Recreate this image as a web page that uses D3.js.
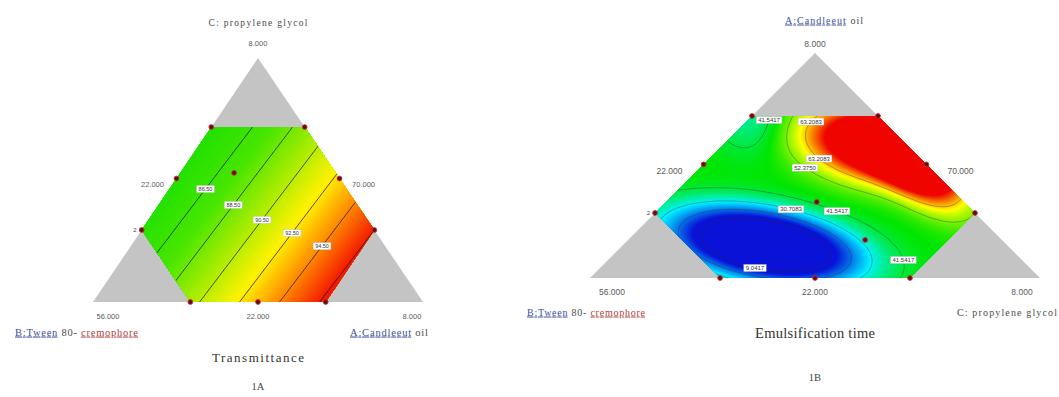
<!DOCTYPE html>
<html>
<head>
<meta charset="utf-8">
<script src="https://cdn.jsdelivr.net/npm/d3@7/dist/d3.min.js"></script>
<style>
  html, body { margin: 0; padding: 0; background: #fff; }
  svg { display: block; }
</style>
</head>
<body>
<svg id="fig" width="1059" height="397"></svg>
<script>
// Mixture fractions are written [top, left, right] for the corners of each ternary plot.

// ---------- 1A : Transmittance ----------
const corners1A = ["C: propylene glycol", "B:Tween 80- cremophore", "A:Candleeut oil"];
const ticks1A = ["8.000", "22.000", "70.000", "56.000", "22.000", "8.000"]; // apex, left edge, right edge, base L, base mid, base R
const limits1A = [0.717, 0.705, 0.705];            // upper bounds of each component
const transCoef = [84.15, 85.17, 101.67];          // linear blending terms (C, B, A)
const transLevels = [86.5, 88.5, 90.5, 92.5, 94.5, 96.5];
const transLabelAt = [[0.467, 0.427, 0.105], [0.406, 0.382, 0.212], [0.336, 0.320, 0.344],
                      [0.279, 0.255, 0.467], [0.225, 0.191, 0.585]];
const transRuns = [[0.717, 0.283, 0], [0.717, 0, 0.283], [0.506, 0.494, 0], [0.506, 0, 0.494],
                   [0.295, 0.705, 0], [0.295, 0, 0.705], [0, 0.705, 0.295], [0, 0.5, 0.5],
                   [0, 0.295, 0.705], [0.529, 0.308, 0.163]];
const transReplicates = [[0.295, 0.705, 0]];

// ---------- 1B : Emulsification time ----------
const corners1B = ["A:Candleeut oil", "B:Tween 80- cremophore", "C: propylene glycol"];
const ticks1B = ["8.000", "22.000", "70.000", "56.000", "22.000", "8.000"];
const limits1B = [0.72, 0.711, 0.711];
const emulsBase = 45;
const emulsCentres = [[0.591, 0.06, 0.349], [0.48, 0.027, 0.493], [0.147, 0.538, 0.315], [0.72, 0.28, 0]];
const emulsHeights = [45, 30, -47, -10];
const emulsSpreads = [[0.178, 0.0844], [0.133, 0.0667], [0.228, 0.0845], [0.078, 0.078]]; // along / across, base-width units
const emulsTilts = [10, 40, 10, 0];
const emulsShapes = [1.2, 1.2, 1.5, 1];
const emulsLevels = [9.0417, 19.875, 30.7083, 41.5417, 52.375, 63.2083];
const emulsLabelAt = [[0.053, 0.607, 0.34], [0.067, 0.289, 0.644], [0.316, 0.393, 0.291],
                      [0.316, 0.291, 0.393], [0.715, 0.223, 0.062], [0.715, 0.161, 0.124],
                      [0.467, 0.30, 0.233], [0.516, 0.231, 0.253]];
const emulsRuns = [[0.72, 0.28, 0], [0.72, 0, 0.28], [0.505, 0.495, 0], [0.505, 0, 0.495],
                   [0.289, 0.711, 0], [0.289, 0, 0.711], [0, 0.711, 0.289], [0, 0.5, 0.5],
                   [0, 0.289, 0.711], [0.338, 0.327, 0.335], [0.169, 0.304, 0.527]];
const emulsReplicates = [[0.289, 0.711, 0]];

function transmittance(f) {
  return transCoef[0] * f[0] + transCoef[1] * f[1] + transCoef[2] * f[2];
}

function emulsificationTime(f, aspect) {
  const X = f[2] + f[0] / 2, Y = -f[0] * aspect;
  let v = emulsBase;
  emulsCentres.forEach((c, i) => {
    const dx = X - (c[2] + c[0] / 2), dy = Y + c[0] * aspect;
    const a = emulsTilts[i] * Math.PI / 180;
    const m = (dx * Math.cos(a) + dy * Math.sin(a)) / emulsSpreads[i][0];
    const n = (-dx * Math.sin(a) + dy * Math.cos(a)) / emulsSpreads[i][1];
    v += emulsHeights[i] * Math.exp(-Math.pow(m * m + n * n, emulsShapes[i]));
  });
  return v;
}

const panels = [
  {
    box: { x0: 93, x1: 423, yBase: 302, yApex: 58 },
    corners: corners1A, ticks: ticks1A, limits: limits1A,
    response: f => transmittance(f),
    levels: transLevels, labelAt: transLabelAt, runs: transRuns, reps: transReplicates,
    fillRange: [84, 97.2],
    color: d3.scaleLinear().domain([84, 87.5, 92.3, 94.3, 96.6])
      .range(["#1ce000", "#48e600", "#fff200", "#ff9000", "#f41800"]).clamp(true),
    line: { stroke: "#1a1a1a", width: 0.9, opacity: 0.85 },
    label: { size: 5.5, fmt: d3.format(".2f"), h: 7 },
    tickSize: 7.5, tickOff: { apex: -12, edgeX: 24, edgeY: 8, base: 17, baseL: 15, baseR: -11 },
    topName: { size: 9.5, y: 26, w: 99, dx: 0 },
    baseNames: { size: 10.5, y: 335.5, left: 15, lw: 123, right: 350, rw: 78 },
    title: { text: "Transmittance", size: 13, y: 362, w: 92 },
    caption: { text: "1A", size: 10.5, y: 390 }
  },
  {
    box: { x0: 590, x1: 1040, yBase: 278, yApex: 53 },
    corners: corners1B, ticks: ticks1B, limits: limits1B,
    response: (f, aspect) => emulsificationTime(f, aspect),
    levels: emulsLevels, labelAt: emulsLabelAt, runs: emulsRuns, reps: emulsReplicates,
    fillRange: [12, 75],
    color: d3.scaleLinear().domain([12, 30, 45, 60, 75])
      .range(["#0a12d8", "#00f2ff", "#00e600", "#ffff00", "#f00000"]).clamp(true),
    line: { stroke: "#2a2a2a", width: 0.6, opacity: 0.6 },
    label: { size: 6, fmt: d3.format(".4f"), h: 7 },
    tickSize: 8.5, tickOff: { apex: -6, edgeX: 34, edgeY: 9.5, base: 17, baseL: 22, baseR: -18 },
    topName: { size: 10, y: 23.5, w: 78, dx: 9 },
    baseNames: { size: 10, y: 315.5, left: 527, lw: 118, right: 957, rw: 100 },
    title: { text: "Emulsification time", size: 14.5, y: 338, w: 120 },
    caption: { text: "1B", size: 10.5, y: 381 }
  }
];

const svg = d3.select("#fig");
let clipId = 0;

function styledName(g, str, x, y, size, anchor, width) {
  const t = g.append("text").attr("x", x).attr("y", y)
    .attr("font-family", "Liberation Serif, Times New Roman, serif")
    .attr("font-size", size).attr("fill", "#4a4a4a").attr("text-anchor", anchor)
    .attr("textLength", width).attr("lengthAdjust", "spacing");
  str.split(/(\s+)/).forEach(tok => {
    const s = t.append("tspan").text(tok);
    if (/^[AB]:/.test(tok)) s.attr("fill", "#3c4f9c").style("text-decoration", "underline");
    if (tok === "cremophore") s.attr("fill", "#b24040").style("text-decoration", "underline");
  });
}

function drawPanel(p) {
  const { x0, x1, yBase, yApex } = p.box;
  const aspect = (yBase - yApex) / (x1 - x0);
  const x = d3.scaleLinear().domain([0, 1]).range([x0, x1]);          // position along base
  const y = d3.scaleLinear().domain([0, 1]).range([yBase, yApex]);    // top-corner fraction
  const toXY = f => [x(f[2] + f[0] / 2), y(f[0])];
  const fromXY = (px, py) => { const v = y.invert(py), u = x.invert(px); return [v, 1 - u - v / 2, u - v / 2]; };
  const [Lt, Ll, Lr] = p.limits;
  const inRegion = (f, e) => f[0] <= Lt - e && f[1] <= Ll - e && f[2] <= Lr - e && f[0] >= e && f[1] >= e && f[2] >= e;

  const g = svg.append("g");

  // whole simplex in grey
  const tri = [[0, 1, 0], [1, 0, 0], [0, 0, 1]].map(toXY);
  g.append("path").attr("d", d3.line()(tri) + "Z").attr("fill", "#c4c4c4");

  // constrained region
  const hexF = [[Lt, 1 - Lt, 0], [Lt, 0, 1 - Lt], [1 - Lr, 0, Lr], [0, 1 - Lr, Lr], [0, Ll, 1 - Ll], [1 - Ll, Ll, 0]];
  const hex = hexF.map(toXY);
  const id = "clip" + (clipId++);
  g.append("clipPath").attr("id", id).append("path").attr("d", d3.line()(hex) + "Z");

  // response grid
  const step = 2;
  const gx0 = x0 - step, gy0 = yApex - step;
  const nx = Math.ceil((x1 - x0) / step) + 3, ny = Math.ceil((yBase - yApex) / step) + 3;
  const values = new Float64Array(nx * ny);
  for (let j = 0; j < ny; j++)
    for (let i = 0; i < nx; i++)
      values[j * nx + i] = p.response(fromXY(gx0 + (i + 0.5) * step, gy0 + (j + 0.5) * step), aspect);

  const contours = d3.contours().size([nx, ny]);
  const path = d3.geoPath(d3.geoIdentity().scale(step).translate([gx0, gy0]));

  const surf = g.append("g").attr("clip-path", `url(#${id})`);
  const [lo, hi] = p.fillRange;
  surf.append("path").attr("d", d3.line()(hex) + "Z").attr("fill", p.color(lo));
  const nBands = 140, dv = (hi - lo) / nBands;
  const bands = d3.range(nBands).map(k => lo + k * dv);
  surf.selectAll("path.band").data(bands).join("path")
    .attr("class", "band")
    .attr("d", t => path(contours.contour(values, t)))
    .attr("fill", t => p.color(t + dv / 2));

  // contour lines
  const lineGeo = p.levels.map(lv => contours.contour(values, lv));
  surf.selectAll("path.iso").data(lineGeo).join("path")
    .attr("class", "iso").attr("d", path).attr("fill", "none")
    .attr("stroke", p.line.stroke).attr("stroke-width", p.line.width).attr("stroke-opacity", p.line.opacity);

  // contour labels: nearest free spot on a contour line
  const labels = g.append("g");
  const measure = labels.append("text")
    .attr("font-family", "Liberation Sans, Arial, sans-serif").attr("font-size", p.label.size);
  const widthOf = {};
  p.levels.forEach(lv => { measure.text(p.label.fmt(lv)); widthOf[lv] = measure.node().getComputedTextLength() + 4; });
  measure.remove();
  const placed = [];
  const hitsPlaced = (cx, cy, w, h) => placed.some(b =>
    Math.abs(cx - b.cx) < (w + b.w) / 2 + 1 && Math.abs(cy - b.cy) < (h + b.h) / 2 + 1);

  p.labelAt.forEach(hint => {
    const [hx, hy] = toXY(hint);
    const cands = [];
    lineGeo.forEach(c => c.coordinates.forEach(poly => poly.forEach(ring => ring.forEach(pt => {
      const px = gx0 + pt[0] * step, py = gy0 + pt[1] * step;
      if (!inRegion(fromXY(px, py), 0.012)) return;
      cands.push({ d: (px - hx) ** 2 + (py - hy) ** 2, px, py, lv: c.value });
    }))));
    cands.sort((a, b) => a.d - b.d);
    const best = cands.find(c => !hitsPlaced(c.px, c.py, widthOf[c.lv], p.label.h));
    if (!best) return;
    const w = widthOf[best.lv];
    placed.push({ cx: best.px, cy: best.py, w, h: p.label.h });
    const lg = labels.append("g").attr("transform", `translate(${best.px},${best.py})`);
    lg.append("rect").attr("fill", "#fff").attr("stroke", "#bbb").attr("stroke-width", 0.4)
      .attr("x", -w / 2).attr("y", -p.label.h / 2).attr("width", w).attr("height", p.label.h);
    lg.append("text").text(p.label.fmt(best.lv))
      .attr("font-family", "Liberation Sans, Arial, sans-serif").attr("font-size", p.label.size)
      .attr("fill", "#333").attr("text-anchor", "middle").attr("dy", "0.35em");
  });

  // design runs
  g.selectAll("circle.run").data(p.runs).join("circle")
    .attr("class", "run")
    .attr("cx", f => toXY(f)[0]).attr("cy", f => toXY(f)[1]).attr("r", 2.4)
    .attr("fill", "#5c0f0f").attr("stroke", "#cc2a2a").attr("stroke-width", 0.9);
  g.selectAll("text.rep").data(p.reps).join("text")
    .attr("class", "rep").text("2")
    .attr("x", f => toXY(f)[0] - 5).attr("y", f => toXY(f)[1] + 2)
    .attr("font-family", "Liberation Sans, Arial, sans-serif").attr("font-size", 6)
    .attr("fill", "#444").attr("text-anchor", "end");

  // corner / edge tick values
  const o = p.tickOff;
  const leftMid = toXY([(Lt + 1 - Ll) / 2, 1 - (Lt + 1 - Ll) / 2, 0]);
  const rightMid = toXY([(Lt + 1 - Lr) / 2, 0, 1 - (Lt + 1 - Lr) / 2]);
  const tickPos = [
    [x(0.5), yApex + o.apex],
    [leftMid[0] - o.edgeX, leftMid[1] + o.edgeY],
    [rightMid[0] + o.edgeX, rightMid[1] + o.edgeY],
    [x0 + o.baseL, yBase + o.base],
    [x(0.5), yBase + o.base],
    [x1 + o.baseR, yBase + o.base]
  ];
  g.selectAll("text.tick").data(p.ticks).join("text")
    .attr("class", "tick").text(d => d)
    .attr("x", (d, i) => tickPos[i][0]).attr("y", (d, i) => tickPos[i][1])
    .attr("font-family", "Liberation Sans, Arial, sans-serif").attr("font-size", p.tickSize)
    .attr("fill", "#5a5a5a").attr("text-anchor", "middle");

  // component names
  styledName(g, p.corners[0], x(0.5) + p.topName.dx, p.topName.y, p.topName.size, "middle", p.topName.w);
  styledName(g, p.corners[1], p.baseNames.left, p.baseNames.y, p.baseNames.size, "start", p.baseNames.lw);
  styledName(g, p.corners[2], p.baseNames.right, p.baseNames.y, p.baseNames.size, "start", p.baseNames.rw);

  // response name and panel caption
  g.append("text").text(p.title.text).attr("x", x(0.5)).attr("y", p.title.y)
    .attr("font-family", "Liberation Serif, Times New Roman, serif").attr("font-size", p.title.size)
    .attr("fill", "#333").attr("text-anchor", "middle")
    .attr("textLength", p.title.w).attr("lengthAdjust", "spacing");
  g.append("text").text(p.caption.text).attr("x", x(0.5)).attr("y", p.caption.y)
    .attr("font-family", "Liberation Serif, Times New Roman, serif").attr("font-size", p.caption.size)
    .attr("fill", "#444").attr("text-anchor", "middle");
}

panels.forEach(drawPanel);
</script>
</body>
</html>
